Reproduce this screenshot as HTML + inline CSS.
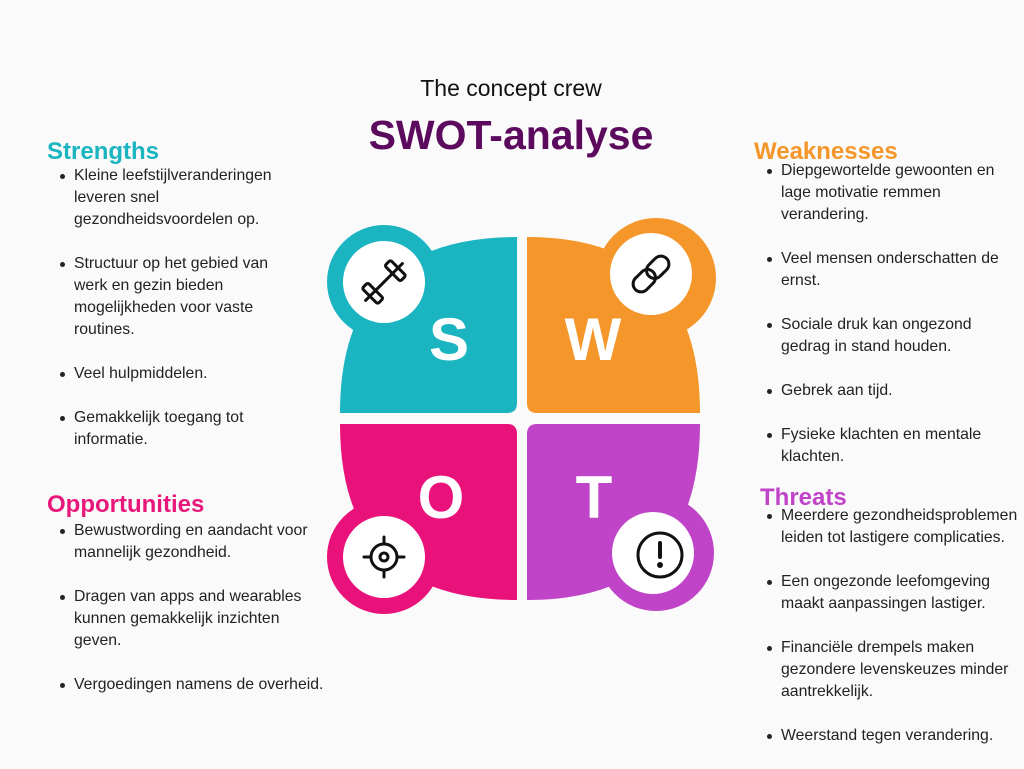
<!DOCTYPE html>
<html><head><meta charset="utf-8"><style>
body{margin:0;width:1024px;height:768px;background:#fafafa;position:relative;overflow:hidden;font-family:"Liberation Sans",sans-serif;}
.t{position:absolute;white-space:nowrap}
h2{position:absolute;margin:0;font-size:24px;font-weight:bold;line-height:26px;white-space:nowrap}
ul{position:absolute;margin:0;padding:0;list-style:none;font-size:15.8px;line-height:22px;color:#222}
li{position:relative;padding-left:14px;margin-bottom:22px}
li:before{content:"";position:absolute;left:0;top:9px;width:5px;height:5px;border-radius:50%;background:#222}
</style></head><body>
<div class="t" style="left:0;width:1022px;text-align:center;top:75px;font-size:23px;color:#111">The concept crew</div>
<div class="t" style="left:0;width:1022px;text-align:center;top:112px;font-size:41px;font-weight:bold;color:#5c0a5e">SWOT-analyse</div>

<h2 style="left:47px;top:139px;color:#1ab5c0">Strengths</h2>
<ul style="left:60px;top:165px">
<li>Kleine leefstijlveranderingen<br>leveren snel<br>gezondheidsvoordelen op.</li>
<li>Structuur op het gebied van<br>werk en gezin bieden<br>mogelijkheden voor vaste<br>routines.</li>
<li>Veel hulpmiddelen.</li>
<li>Gemakkelijk toegang tot<br>informatie.</li>
</ul>
<h2 style="left:47px;top:492px;color:#e8187a">Opportunities</h2>
<ul style="left:60px;top:520px">
<li>Bewustwording en aandacht voor<br>mannelijk gezondheid.</li>
<li>Dragen van apps and wearables<br>kunnen gemakkelijk inzichten<br>geven.</li>
<li>Vergoedingen namens de overheid.</li>
</ul>
<h2 style="left:754px;top:139px;color:#f5962a">Weaknesses</h2>
<ul style="left:767px;top:160px">
<li>Diepgewortelde gewoonten en<br>lage motivatie remmen<br>verandering.</li>
<li>Veel mensen onderschatten de<br>ernst.</li>
<li>Sociale druk kan ongezond<br>gedrag in stand houden.</li>
<li>Gebrek aan tijd.</li>
<li>Fysieke klachten en mentale<br>klachten.</li>
</ul>
<h2 style="left:760px;top:485px;color:#c044c8">Threats</h2>
<ul style="left:767px;top:505px">
<li>Meerdere gezondheidsproblemen<br>leiden tot lastigere complicaties.</li>
<li>Een ongezonde leefomgeving<br>maakt aanpassingen lastiger.</li>
<li>Financiële drempels maken<br>gezondere levenskeuzes minder<br>aantrekkelijk.</li>
<li>Weerstand tegen verandering.</li>
</ul>

<svg style="position:absolute;left:0;top:0" width="1024" height="768">
<g>
<path fill="#1ab5c0" d="M340,413 Q340,237 517,237 L517,403 Q517,413 507,413 Z"/>
<circle cx="384" cy="282" r="57" fill="#1ab5c0"/><circle cx="384" cy="282" r="41" fill="#fff"/>
<path fill="#f5962a" d="M700,413 Q700,237 527,237 L527,403 Q527,413 537,413 Z"/>
<circle cx="656" cy="278" r="60" fill="#f5962a"/><circle cx="651" cy="274" r="41" fill="#fff"/>
<path fill="#e8127a" d="M340,424 Q340,600 517,600 L517,434 Q517,424 507,424 Z"/>
<circle cx="384" cy="557" r="57" fill="#e8127a"/><circle cx="384" cy="557" r="41" fill="#fff"/>
<path fill="#c044c8" d="M700,424 Q700,600 527,600 L527,434 Q527,424 537,424 Z"/>
<circle cx="656" cy="553" r="58" fill="#c044c8"/><circle cx="653" cy="553" r="41" fill="#fff"/>
</g>
<g font-family="Liberation Sans" font-weight="bold" fill="#fff" font-size="60" text-anchor="middle">
<text x="449" y="360">S</text><text x="593" y="360">W</text><text x="441" y="518">O</text><text x="594" y="518">T</text>
</g>
<g stroke="#111" stroke-width="3" fill="none" stroke-linecap="round">
<g transform="translate(384,282) rotate(-45)">
<line x1="-26" y1="0" x2="26" y2="0"/><rect x="-20" y="-11" width="8" height="22" rx="2"/><rect x="12" y="-11" width="8" height="22" rx="2"/>
</g>
<g transform="translate(651,274) rotate(-45)">
<rect x="-22" y="-8" width="25" height="16" rx="8"/><rect x="-3" y="-8" width="25" height="16" rx="8"/>
</g>
<circle cx="384" cy="557" r="13"/><circle cx="384" cy="557" r="4"/>
<line x1="384" y1="537" x2="384" y2="544"/><line x1="384" y1="570" x2="384" y2="577"/><line x1="364" y1="557" x2="371" y2="557"/><line x1="397" y1="557" x2="404" y2="557"/>
<circle cx="660" cy="555" r="22"/><line x1="660" y1="543" x2="660" y2="557" stroke-width="4"/><circle cx="660" cy="565" r="1.5" fill="#111"/>
</g>
</svg>
</body></html>
